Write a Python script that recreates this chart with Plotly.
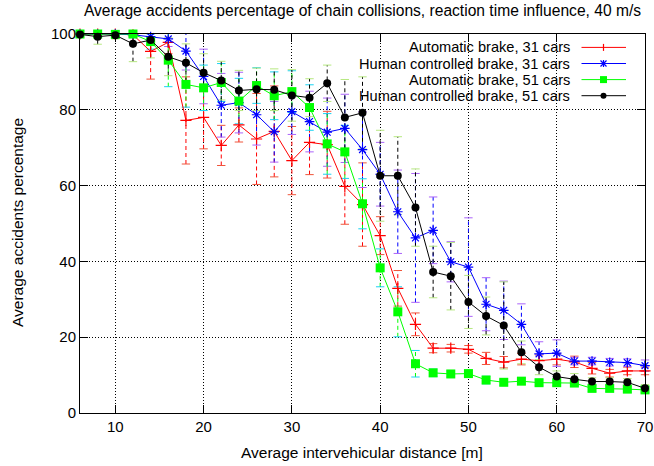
import plotly.graph_objects as go

# ---------------- data ----------------
distance = [6, 8, 10, 12, 14, 16, 18, 20, 22, 24, 26, 28, 30, 32, 34, 36, 38,
            40, 42, 44, 46, 48, 50, 52, 54, 56, 58, 60, 62, 64, 66, 68, 70]

auto31 = [100, 100, 100, 99.8, 95.4, 97.8, 77.2, 78.0, 70.6, 76.0, 72.3, 74.3, 66.6,
          71.4, 70.8, 59.8, 55.0, 46.8, 32.9, 23.4, 17.1, 17.1, 16.8, 14.4, 13.4,
          14.2, 13.8, 14.2, 13.5, 11.8, 10.5, 11.1, 11.1]
auto31_err = [0, 0, 0, 0.5, 7.3, 3, 11.5, 8.3, 5.3, 4.5, 12, 12, 9, 8.5, 8.8, 10,
              11, 5, 4.7, 3, 1.2, 1, 1, 1.6, 1.5, 1.5, 1.5, 1.5, 1.5, 1.5, 1, 1, 1]

human31 = [100, 100, 100, 99.8, 99.3, 98.7, 95.5, 88.8, 81.2, 81.9, 78.7, 74.2, 79.5,
           76.9, 74.1, 75.1, 69.5, 63.0, 53.1, 46.2, 48.2, 39.9, 38.5, 28.7, 27.1,
           23.4, 15.6, 15.8, 13.7, 13.7, 13.4, 13.3, 12.5]
human31_err = [0, 0, 0, 0.5, 1.5, 2, 5, 7.2, 8.4, 8, 8, 8, 6, 8, 9, 9, 10, 8.4, 11,
               17, 8.8, 5.3, 13, 7, 7.7, 5.4, 3.2, 3.5, 1, 1, 1, 1, 1.5]

auto51 = [100, 100, 99.9, 100, 98.0, 93.1, 86.7, 85.8, 87.2, 82.3, 86.4, 83.7, 84.8,
          80.6, 71.0, 68.9, 55.2, 38.3, 26.7, 13.0, 10.6, 10.3, 10.4, 8.7, 8.1, 8.4,
          8.0, 8.0, 7.9, 6.5, 6.5, 6.3, 6.1]
auto51_err = [0, 0, 0.5, 0.5, 2, 7, 6, 6, 5, 6, 4.7, 6.3, 5.5, 6, 8, 7, 6.6, 5, 6.6,
              3.5, 1, 0.8, 0.8, 1, 0.8, 0.8, 0.8, 0.8, 0.8, 0.8, 0.8, 0.8, 0.8]

human51 = [99.9, 99.3, 99.7, 97.4, 98.4, 94.0, 92.4, 89.8, 87.7, 85.1, 85.4, 85.3,
           83.8, 83.2, 87.0, 78.0, 79.2, 62.6, 62.6, 54.2, 37.2, 36.1, 29.3, 25.6,
           23.1, 16.0, 12.1, 9.6, 8.9, 8.3, 8.3, 8.1, 6.5]
human51_err = [0, 2, 1, 4.7, 4.7, 5, 5, 5, 5.1, 5.3, 5.6, 5.5, 6.8, 5, 4.8, 10, 9.5,
               12, 10.3, 10.2, 6.8, 8.9, 7, 5, 11.5, 3, 2, 1.5, 1.5, 1, 1, 1, 1]

series_names = ["Automatic brake, 31 cars", "Human controlled brake, 31 cars",
                "Automatic brake, 51 cars", "Human controlled brake, 51 cars"]

x_ticks = [10, 20, 30, 40, 50, 60, 70]
y_ticks = [0, 20, 40, 60, 80, 100]

title_text = "Average accidents percentage of chain collisions, reaction time influence, 40 m/s"
x_title = "Average intervehicular distance [m]"
y_title = "Average accidents percentage"

# ---------------- style ----------------
FONT = "Liberation Sans, Arial, sans-serif"
FS = 15
FT = 15.5
W, H = 654, 466
ML, MR, MT, MB = 80, 9, 34, 53
PW, PH = W - ML - MR, H - MT - MB

styles = [
    dict(color="#ff0000", symbol="cross-thin-open", size=8, lsym="plus"),
    dict(color="#0000ff", symbol="asterisk-open", size=8, lsym="asterisk"),
    dict(color="#00ff00", symbol="square", size=9, lsym="square"),
    dict(color="#000000", symbol="circle", size=8, lsym="circle"),
]
all_vals = [auto31, human31, auto51, human51]
all_errs = [auto31_err, human31_err, auto51_err, human51_err]

YMAX = 100

fig = go.Figure()

# error bars (dashed stems + caps)
for vals, errs, st in zip(all_vals, all_errs, styles):
    sx, sy, cx, cy = [], [], [], []
    for d, v, e in zip(distance, vals, errs):
        if e <= 0:
            continue
        lo, hi = v - e, min(v + e, YMAX)
        sx += [d, d, None]
        sy += [lo, hi, None]
        cx.append(d)
        cy.append(lo)
        if v + e <= YMAX:
            cx.append(d)
            cy.append(hi)
    fig.add_trace(go.Scatter(x=sx, y=sy, mode="lines", showlegend=False,
                             hoverinfo="skip",
                             line=dict(color=st["color"], width=1, dash="4px,3px")))
    fig.add_trace(go.Scatter(x=cx, y=cy, mode="markers", showlegend=False,
                             hoverinfo="skip", cliponaxis=False,
                             marker=dict(symbol="line-ew-open", size=6,
                                         line=dict(color=st["color"], width=1))))

# main series
for vals, name, st in zip(all_vals, series_names, styles):
    open_sym = st["symbol"].endswith("open")
    marker = dict(symbol=st["symbol"], size=st["size"], color=st["color"])
    if open_sym:
        marker["line"] = dict(color=st["color"], width=1.2)
    else:
        marker["line"] = dict(width=0)
    fig.add_trace(go.Scatter(x=distance, y=vals, mode="lines+markers", name=name,
                             showlegend=False, cliponaxis=False,
                             line=dict(color=st["color"], width=1), marker=marker))

# ---------------- manual gnuplot-style key ----------------
def px(xp):
    return (xp - ML) / PW

def py(yp):
    return (MT + PH - yp) / PH

shapes, annotations = [], []
rows_y = [47.4, 63.5, 79.6, 95.7]
text_right = 571.5
line_x0, line_x1, mark_x = 581.5, 626.0, 603.5
for name, st, ry in zip(series_names, styles, rows_y):
    annotations.append(dict(x=px(text_right), y=py(ry), xref="paper", yref="paper",
                            text=name, showarrow=False, xanchor="right",
                            yanchor="middle",
                            font=dict(family=FONT, size=14.6, color="black")))
    shapes.append(dict(type="line", xref="paper", yref="paper",
                       x0=px(line_x0), x1=px(line_x1), y0=py(ry), y1=py(ry),
                       line=dict(color=st["color"], width=1)))
    c = st["color"]
    if st["lsym"] == "plus":
        shapes.append(dict(type="line", xref="paper", yref="paper",
                           x0=px(mark_x), x1=px(mark_x), y0=py(ry - 3.5), y1=py(ry + 3.5),
                           line=dict(color=c, width=1.2)))
    elif st["lsym"] == "asterisk":
        shapes.append(dict(type="line", xref="paper", yref="paper",
                           x0=px(mark_x), x1=px(mark_x), y0=py(ry - 3.5), y1=py(ry + 3.5),
                           line=dict(color=c, width=1.2)))
        for sgn in (-1, 1):
            shapes.append(dict(type="line", xref="paper", yref="paper",
                               x0=px(mark_x - 3), x1=px(mark_x + 3),
                               y0=py(ry - 3 * sgn), y1=py(ry + 3 * sgn),
                               line=dict(color=c, width=1.2)))
    elif st["lsym"] == "square":
        shapes.append(dict(type="rect", xref="paper", yref="paper",
                           x0=px(mark_x - 3.5), x1=px(mark_x + 3.5),
                           y0=py(ry - 3.5), y1=py(ry + 3.5),
                           fillcolor=c, line=dict(width=0)))
    else:
        shapes.append(dict(type="circle", xref="paper", yref="paper",
                           x0=px(mark_x - 3), x1=px(mark_x + 3),
                           y0=py(ry - 3), y1=py(ry + 3),
                           fillcolor=c, line=dict(width=0)))

# axis titles as annotations (fixed pixel placement like gnuplot)
annotations.append(dict(x=px(362), y=py(452), xref="paper", yref="paper",
                        text=x_title, showarrow=False, xanchor="center",
                        yanchor="middle",
                        font=dict(family=FONT, size=FT, color="black")))
annotations.append(dict(x=px(17), y=py(223), xref="paper", yref="paper",
                        text=y_title, showarrow=False, xanchor="center",
                        yanchor="middle", textangle=-90,
                        font=dict(family=FONT, size=FT, color="black")))

axis_common = dict(
    showline=True, linecolor="black", linewidth=1, mirror="ticks",
    ticks="inside", ticklen=8, tickwidth=1, tickcolor="black",
    showgrid=True, gridcolor="black", gridwidth=1, griddash="1px,2px",
    zeroline=False, automargin=False,
    tickfont=dict(family=FONT, size=FS, color="black"),
)

fig.update_layout(
    width=W, height=H,
    margin=dict(l=ML, r=MR, t=MT, b=MB, pad=0),
    paper_bgcolor="white", plot_bgcolor="white",
    font=dict(family=FONT, size=FS, color="black"),
    showlegend=False,
    title=dict(text=title_text, x=0.5, xref="paper", xanchor="center",
               y=1 - 11 / H, yref="container", yanchor="middle",
               font=dict(family=FONT, size=15.6, color="black")),
    xaxis=dict(range=[6, 70], tickvals=x_ticks, **axis_common),
    yaxis=dict(range=[0, 100], tickvals=y_ticks, **axis_common),
    shapes=shapes,
    annotations=annotations,
)

fig.write_html("out.html")
